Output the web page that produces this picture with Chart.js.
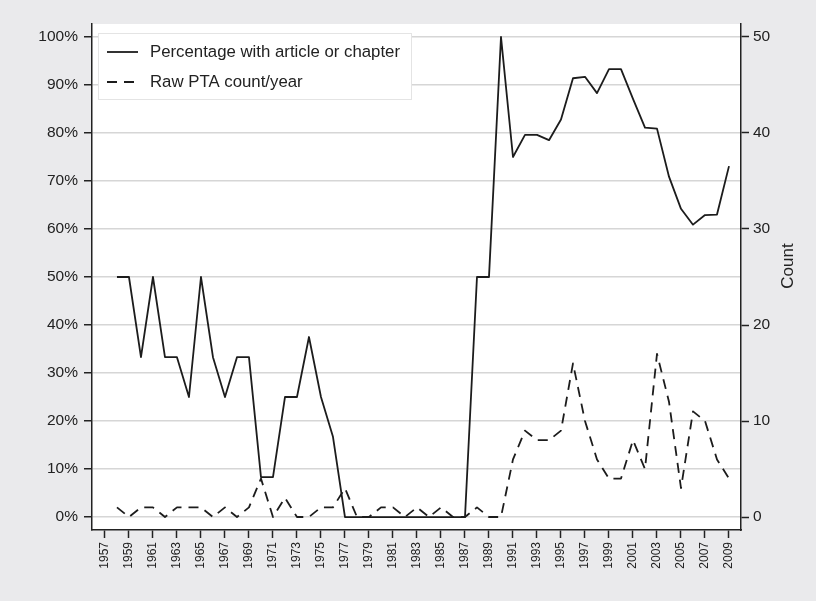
<!DOCTYPE html>
<html>
<head>
<meta charset="utf-8">
<script src="https://cdn.jsdelivr.net/npm/chart.js@4.4.1/dist/chart.umd.min.js"></script>
<style>
  html, body { margin: 0; padding: 0; background: #eaeaec; }
  canvas { display: block; }
</style>
</head>
<body>
<canvas id="c" width="816" height="601"></canvas>
<script>
// Publication years
const years = [
  1958, 1959, 1960, 1961, 1962, 1963, 1964, 1965, 1966, 1967,
  1968, 1969, 1970, 1971, 1972, 1973, 1974, 1975, 1976, 1977,
  1978, 1979, 1980, 1981, 1982, 1983, 1984, 1985, 1986, 1987,
  1988, 1989, 1990, 1991, 1992, 1993, 1994, 1995, 1996, 1997,
  1998, 1999, 2000, 2001, 2002, 2003, 2004, 2005, 2006, 2007,
  2008, 2009
];

// Share of PTAs with an article or chapter (%)
const pctWithArticle = [
  50, 50, 33.3, 50, 33.3, 33.3, 25, 50, 33.3, 25,
  33.3, 33.3, 8.3, 8.3, 25, 25, 37.5, 25, 16.7, 0,
  0, 0, 0, 0, 0, 0, 0, 0, 0, 0,
  50, 50, 100, 75, 79.6, 79.6, 78.5, 82.8, 91.4, 91.7,
  88.3, 93.3, 93.3, 87.1, 81.1, 80.9, 70.9, 64.2, 60.9, 62.9,
  63.0, 73.1
];

// Raw PTA count per year
const ptaCount = [
  1, 0, 1, 1, 0, 1, 1, 1, 0, 1,
  0, 1, 4, 0, 2, 0, 0, 1, 1, 3,
  0, 0, 1, 1, 0, 1, 0, 1, 0, 0,
  1, 0, 0, 6, 9, 8, 8, 9, 16, 10,
  6, 4, 4, 8, 5, 17, 12, 3, 11, 10,
  6, 4
];

// Axis tick labels
const xTickYears = [
  1957, 1959, 1961, 1963, 1965, 1967, 1969, 1971, 1973, 1975,
  1977, 1979, 1981, 1983, 1985, 1987, 1989, 1991, 1993, 1995,
  1997, 1999, 2001, 2003, 2005, 2007, 2009
];
const pctTicks = [0, 10, 20, 30, 40, 50, 60, 70, 80, 90, 100];
const countTicks = [0, 10, 20, 30, 40, 50];

const seriesLabels = ['Percentage with article or chapter', 'Raw PTA count/year'];
const rightTitle = 'Count';

const FONT = '"Liberation Sans", Arial, Helvetica, sans-serif';
const INK = '#222222';
const LINE = '#1c1c1c';
const DASH = [10, 7];

// White plotting region behind the grid
const plotBackground = {
  id: 'plotBackground',
  beforeDraw(chart) {
    const { ctx, chartArea: a } = chart;
    ctx.save();
    ctx.fillStyle = '#ffffff';
    ctx.fillRect(a.left, a.top, a.right - a.left, a.bottom - a.top);
    ctx.restore();
  }
};

// Legend box in the upper-left corner of the plot and the right axis title
const insideLegend = {
  id: 'insideLegend',
  afterDatasetsDraw(chart) {
    const { ctx, chartArea: a } = chart;
    const bx = a.left + 6, by = a.top + 9, bw = 314, bh = 67;
    ctx.save();
    ctx.fillStyle = '#ffffff';
    ctx.fillRect(bx, by, bw, bh);
    ctx.strokeStyle = '#e4e4e4';
    ctx.lineWidth = 1;
    ctx.strokeRect(bx + 0.5, by + 0.5, bw - 1, bh - 1);
    chart.data.datasets.forEach((ds, i) => {
      const y = by + 19 + i * 30;
      ctx.strokeStyle = ds.borderColor;
      ctx.lineWidth = ds.borderWidth;
      ctx.setLineDash(ds.borderDash || []);
      ctx.beginPath();
      ctx.moveTo(bx + 9, y);
      ctx.lineTo(bx + 40, y);
      ctx.stroke();
      ctx.setLineDash([]);
      ctx.fillStyle = INK;
      ctx.font = '16.8px ' + FONT;
      ctx.textBaseline = 'middle';
      ctx.textAlign = 'left';
      ctx.fillText(ds.label, bx + 52, y);
    });

    // Right axis title, reading bottom to top
    ctx.translate(788, 266);
    ctx.rotate(-Math.PI / 2);
    ctx.fillStyle = INK;
    ctx.font = '17px ' + FONT;
    ctx.textAlign = 'center';
    ctx.textBaseline = 'middle';
    ctx.fillText(rightTitle, 0, 0);
    ctx.restore();
  }
};

const toPoints = (vals) => years.map((yr, i) => ({ x: yr, y: vals[i] }));

new Chart(document.getElementById('c'), {
  type: 'line',
  data: {
    datasets: [
      {
        label: seriesLabels[0],
        data: toPoints(pctWithArticle),
        yAxisID: 'yPct',
        borderColor: LINE,
        borderWidth: 1.8,
        borderJoinStyle: 'round',
        pointRadius: 0,
        tension: 0,
        fill: false
      },
      {
        label: seriesLabels[1],
        data: toPoints(ptaCount),
        yAxisID: 'yCount',
        borderColor: LINE,
        borderWidth: 1.8,
        borderJoinStyle: 'round',
        borderDash: DASH,
        pointRadius: 0,
        tension: 0,
        fill: false
      }
    ]
  },
  options: {
    responsive: false,
    animation: false,
    events: [],
    layout: { padding: { top: 24, left: 0, right: 0, bottom: 0 } },
    plugins: {
      legend: { display: false },
      tooltip: { enabled: false }
    },
    scales: {
      x: {
        type: 'linear',
        position: 'bottom',
        min: 1955.92,
        max: 2010,
        afterBuildTicks(scale) { scale.ticks = xTickYears.map(v => ({ value: v })); },
        afterFit(scale) { scale.height = 71; },
        ticks: {
          autoSkip: false,
          minRotation: 90,
          maxRotation: 90,
          padding: 4,
          color: INK,
          font: { family: FONT, size: 12 },
          callback: (v) => String(v)
        },
        grid: {
          drawOnChartArea: false,
          drawTicks: true,
          tickLength: 8,
          tickColor: INK,
          tickWidth: 1.5
        },
        border: { color: INK, width: 1.5 }
      },
      yPct: {
        type: 'linear',
        position: 'left',
        min: -2.7,
        max: 102.7,
        afterBuildTicks(scale) { scale.ticks = pctTicks.map(v => ({ value: v })); },
        afterFit(scale) { scale.width = 92; },
        ticks: {
          padding: 6,
          color: INK,
          font: { family: FONT, size: 15.5 },
          callback: (v) => v + '%'
        },
        grid: {
          color: '#d6d6d6',
          lineWidth: 1.5,
          drawTicks: true,
          tickLength: 8,
          tickColor: INK,
          tickWidth: 1.5
        },
        border: { color: INK, width: 1.5 }
      },
      yCount: {
        type: 'linear',
        position: 'right',
        min: -1.354,
        max: 51.354,
        afterBuildTicks(scale) { scale.ticks = countTicks.map(v => ({ value: v })); },
        afterFit(scale) { scale.width = 75; },
        ticks: {
          padding: 4,
          color: INK,
          font: { family: FONT, size: 15.5 },
          callback: (v) => String(v)
        },
        grid: {
          drawOnChartArea: false,
          drawTicks: true,
          tickLength: 8,
          tickColor: INK,
          tickWidth: 1.5
        },
        border: { color: INK, width: 1.5 }
      }
    }
  },
  plugins: [plotBackground, insideLegend]
});
</script>
</body>
</html>
